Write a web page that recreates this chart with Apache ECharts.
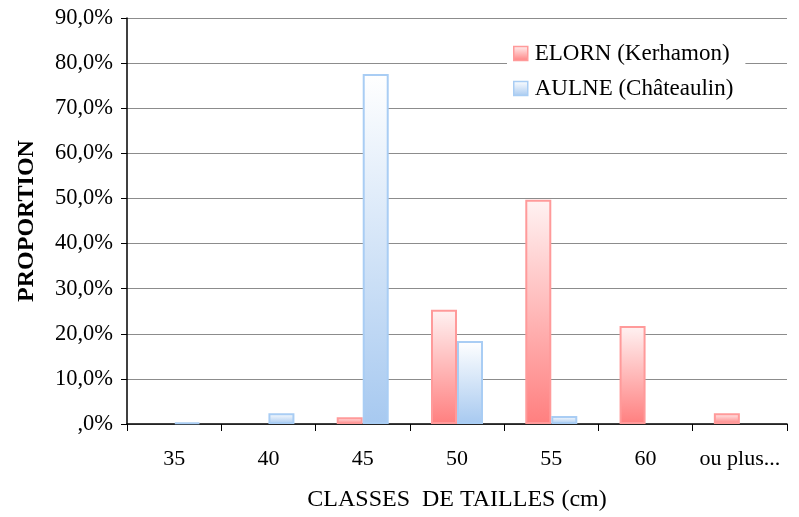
<!DOCTYPE html>
<html>
<head>
<meta charset="utf-8">
<script src="https://cdn.jsdelivr.net/npm/echarts@6/dist/echarts.min.js"></script>
<style>html,body{margin:0;padding:0;background:#fff}#chart{width:799px;height:517px}</style>
</head>
<body>
<div id="chart"></div>
<script>
// Size classes (cm) and the share of fish in each class, per river (%)
const categories = ['35', '40', '45', '50', '55', '60', 'ou plus...'];
const elorn = [0, 0, 1.5, 25.3, 49.7, 21.7, 2.4];
const aulne = [0.3, 2.4, 77.6, 18.4, 1.8, 0, 0];
const yTicks = [0, 10, 20, 30, 40, 50, 60, 70, 80, 90];

const serif = 'Liberation Serif, Times New Roman, serif';

function grad(top, bottom) {
  return new echarts.graphic.LinearGradient(0, 0, 0, 1, [
    { offset: 0, color: top },
    { offset: 1, color: bottom }
  ]);
}

// empty classes draw no bar at all
const noZero = arr => arr.map(v => (v === 0 ? '-' : v));

const redFill = grad('#fff2f2', '#ff7f7f');
const blueFill = grad('#ffffff', '#a7c9f0');

const chart = echarts.init(document.getElementById('chart'), null, { renderer: 'canvas' });
chart.setOption({
  animation: false,
  backgroundColor: '#fff',
  grid: { left: 127, right: 12, top: 18, bottom: 93, containLabel: false },
  legend: {
    orient: 'vertical',
    left: 507,
    top: 38,
    icon: 'rect',
    itemWidth: 14,
    itemHeight: 14,
    itemGap: 12,
    backgroundColor: '#fff',
    padding: [4, 12, 6, 6],
    textStyle: { fontFamily: serif, fontSize: 23, color: '#000', padding: [0, 0, 0, 2] },
    data: [
      { name: 'ELORN (Kerhamon)', itemStyle: { color: redFill, borderColor: '#ff9a9a', borderWidth: 1.5 } },
      { name: 'AULNE (Châteaulin)', itemStyle: { color: blueFill, borderColor: '#a9cdf4', borderWidth: 1.5 } }
    ]
  },
  xAxis: {
    type: 'category',
    data: categories,
    name: 'CLASSES  DE TAILLES (cm)',
    nameLocation: 'middle',
    nameGap: 64,
    nameTextStyle: { fontFamily: serif, fontSize: 24, color: '#000' },
    axisLine: { lineStyle: { color: '#000', width: 1.5 } },
    axisTick: { show: true, interval: 0, length: 7, lineStyle: { color: '#000' } },
    axisLabel: { interval: 0, fontFamily: serif, fontSize: 22, color: '#000', margin: 24 },
    splitLine: { show: false }
  },
  yAxis: {
    type: 'value',
    min: 0,
    max: 90,
    interval: 10,
    name: 'PROPORTION',
    nameLocation: 'middle',
    nameGap: 88,
    nameTextStyle: { fontFamily: serif, fontSize: 24, fontWeight: 'bold', color: '#000' },
    axisLine: { show: true, lineStyle: { color: '#000', width: 1.5 } },
    axisTick: { show: true, length: 6, lineStyle: { color: '#000' } },
    axisLabel: {
      fontFamily: serif, fontSize: 22.5, color: '#000', margin: 14,
      formatter: v => yTicks.includes(v) ? (v === 0 ? ',0%' : v.toFixed(1).replace('.', ',') + '%') : ''
    },
    splitLine: { show: true, lineStyle: { color: '#8c8c8c', width: 1 } }
  },
  series: [
    {
      name: 'ELORN (Kerhamon)',
      type: 'bar',
      data: noZero(elorn),
      barWidth: 26,
      barGap: '0%',
      itemStyle: { color: redFill, borderColor: '#ff9a9a', borderWidth: 2 }
    },
    {
      name: 'AULNE (Châteaulin)',
      type: 'bar',
      data: noZero(aulne),
      barWidth: 26,
      barGap: '0%',
      itemStyle: { color: blueFill, borderColor: '#a9cdf4', borderWidth: 2 }
    }
  ]
});
</script>
</body>
</html>
